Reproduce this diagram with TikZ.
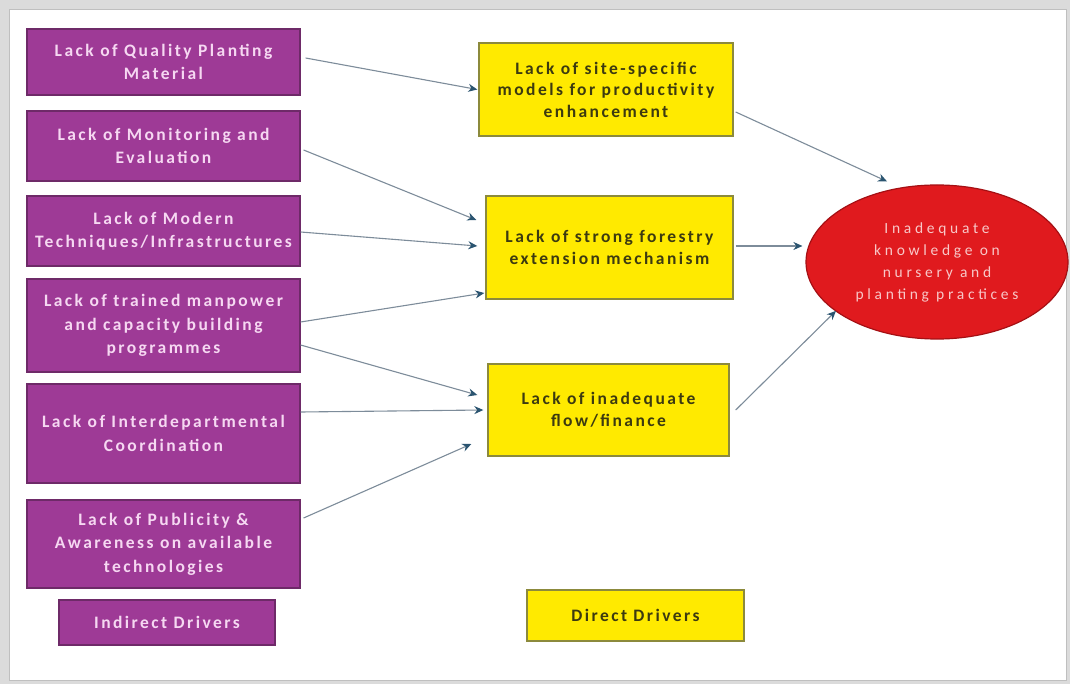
\documentclass[tikz,border=0pt]{standalone}
\usepackage{fontspec}
\setmainfont{Carlito}
\newfontfamily\boxfont[LetterSpace=14]{Carlito}
\newfontfamily\ellfont[LetterSpace=24]{Carlito}
\usetikzlibrary{arrows.meta,shapes.geometric}
\definecolor{purp}{HTML}{9E3A96}
\definecolor{purpd}{HTML}{6E2A68}
\definecolor{purptxt}{HTML}{F6D8F2}
\definecolor{yel}{HTML}{FFEA00}
\definecolor{yeld}{HTML}{8C8A3C}
\definecolor{yeltxt}{HTML}{3C3A10}
\definecolor{redf}{HTML}{E01A1E}
\definecolor{redd}{HTML}{A51014}
\definecolor{redtxt}{HTML}{F8C8C8}
\definecolor{linec}{HTML}{7D8C9A}
\definecolor{tipc}{HTML}{2A5470}
\tikzset{
  pbox/.style={draw=purpd, line width=1.2pt, fill=purp, text=purptxt, align=center,
    font=\boxfont\bfseries\fontsize{17.5}{23.5}\selectfont, inner sep=0pt},
  ybox/.style={draw=yeld, line width=1.4pt, fill=yel, text=yeltxt, align=center,
    font=\boxfont\bfseries\fontsize{17.5}{21.5}\selectfont, inner sep=0pt},
  ell/.style={ellipse, draw=redd, line width=1.2pt, fill=redf, text=redtxt, align=center,
    font=\ellfont\fontsize{15.5}{22}\selectfont, inner sep=0pt},
  arr/.style={draw=linec, line width=1.1pt, -{Stealth[length=9pt,width=8pt,color=tipc]}}
}
\begin{document}
\begin{tikzpicture}[x=1pt,y=-1pt]
\useasboundingbox (0,0) rectangle (1070,684);
\fill[black!14] (0,0) rectangle (1070,684);
\draw[fill=white, draw=black!25, line width=1pt] (9,10) rectangle (1066,680);
% purple boxes
\node[pbox, minimum width=273pt, minimum height=66pt] (p1) at (163.5,62) {Lack of Quality Planting\\Material};
\node[pbox, minimum width=273pt, minimum height=70pt] (p2) at (163.5,146) {Lack of Monitoring and\\Evaluation};
\node[pbox, minimum width=273pt, minimum height=70pt] (p3) at (163.5,231) {Lack of Modern\\Techniques/Infrastructures};
\node[pbox, minimum width=273pt, minimum height=93pt] (p4) at (163.5,325.5) {Lack of trained manpower\\and capacity building\\programmes};
\node[pbox, minimum width=273pt, minimum height=99pt] (p5) at (163.5,433.5) {Lack of Interdepartmental\\Coordination};
\node[pbox, minimum width=273pt, minimum height=88pt] (p6) at (163.5,544) {Lack of Publicity \&\\Awareness on available\\technologies};
\node[pbox, minimum width=216pt, minimum height=45pt] (ind) at (167,622.5) {Indirect Drivers};
% yellow boxes
\node[ybox, minimum width=254pt, minimum height=93pt] (A) at (606,89.5) {Lack of site-specific\\models for productivity\\enhancement};
\node[ybox, minimum width=247pt, minimum height=103pt] (B) at (609.5,247.5) {Lack of strong forestry\\extension mechanism};
\node[ybox, minimum width=241pt, minimum height=92pt] (C) at (608.5,410) {Lack of inadequate\\flow/finance};
\node[ybox, minimum width=217pt, minimum height=51pt] (dir) at (635.5,615.5) {Direct Drivers};
% ellipse
\node[ell, minimum width=262pt, minimum height=154pt] (E) at (937,262) {Inadequate\\knowledge on\\nursery and\\planting practices};
% arrows
\draw[arr] ([xshift=5pt,yshift=4pt]p1.east) -- ([xshift=-1pt]A.west);
\draw[arr] ([xshift=3pt,yshift=-4pt]p2.east) -- ([xshift=-9pt,yshift=27.5pt]B.west);
\draw[arr] ([yshift=-1pt]p3.east) -- ([xshift=-8pt,yshift=1.5pt]B.west);
\draw[arr] ([yshift=3.5pt]p4.east) -- ([xshift=-1pt,yshift=-45.5pt]B.west);
\draw[arr] ([yshift=-19.5pt]p4.east) -- ([xshift=-10pt,yshift=15pt]C.west);
\draw[arr] ([yshift=21.5pt]p5.east) -- ([xshift=-4pt]C.west);
\draw[arr] ([xshift=3pt,yshift=26pt]p6.east) -- ([xshift=-16pt,yshift=-34pt]C.west);
\draw[arr] ([xshift=2pt,yshift=-22.5pt]A.east) -- ([xshift=-50pt,yshift=3pt]E.north);
\draw[arr] ([xshift=2pt,yshift=1.5pt]B.east) -- ([xshift=-3pt,yshift=16pt]E.west);
\draw[arr] ([xshift=6pt]C.east) -- ([xshift=-8pt,yshift=6pt]E.south west);
\end{tikzpicture}
\end{document}
